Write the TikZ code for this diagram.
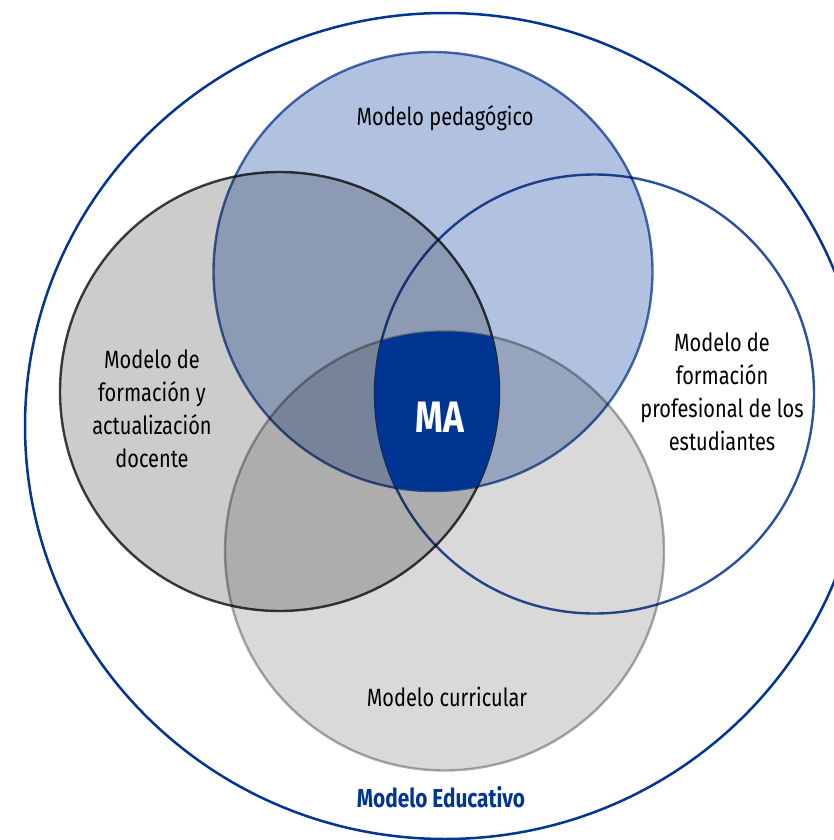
\documentclass[tikz,border=0pt]{standalone}
\usepackage{fontspec}
\setsansfont[FakeStretch=0.8]{Fira Sans}
\usepackage{tikz}
\usetikzlibrary{shapes.geometric}
\definecolor{mablue}{HTML}{003594}
\definecolor{pedfill}{HTML}{B0C2E0}
\definecolor{pedline}{HTML}{4A6EB3}
\definecolor{docfill}{HTML}{CCCCCC}
\definecolor{docline}{HTML}{3F3F3F}
\definecolor{profline}{HTML}{2A51A0}
\definecolor{curfill}{HTML}{D9D9D9}
\definecolor{curline}{HTML}{ADADAD}
\tikzset{
  modelo/.style={circle,draw,line width=2.4pt,inner sep=0pt,minimum size=439pt},
  etiqueta/.style={align=center,font=\sffamily\fontsize{25}{33}\selectfont}
}

\begin{document}
\begin{tikzpicture}[x=1pt,y=-1pt]
	\useasboundingbox (0,0) rectangle (834,840);
	\node[ellipse,draw=mablue,line width=2.5pt,inner sep=0pt,minimum width=840pt,minimum height=826pt] (edu) at (445,426) {};
	\begin{scope}[blend group=multiply]
		\node[modelo,fill=docfill,draw=docline] (doc) at (279.5,391.5) {};
		\node[modelo,fill=pedfill,draw=pedline] (ped) at (433,271.5) {};
		\node[modelo,draw=profline] (prof) at (594.5,394) {};
		\node[modelo,fill=curfill,draw=curline] (cur) at (444.5,551) {};
	\end{scope}
	\begin{scope}
		\clip (doc.center) circle (219.5);
		\clip (ped.center) circle (219.5);
		\clip (prof.center) circle (219.5);
		\fill[mablue] (cur.center) circle (219.5);
	\end{scope}
	\node[etiqueta] (tped) at (445,118) {Modelo pedagógico};
	\node[etiqueta] (tdoc) at (152,409) {Modelo de\\formación y\\actualización\\docente};
	\node[etiqueta] (tprof) at (722,392) {Modelo de\\formación\\profesional de los\\estudiantes};
	\node[etiqueta] (tcur) at (447,697) {Modelo curricular};
	\node[font=\sffamily\bfseries\fontsize{44}{44}\selectfont,text=white] (ma) at (440,417) {MA};
	\node[font=\sffamily\bfseries\fontsize{26}{26}\selectfont,text=mablue] (tedu) at (441,797) {Modelo Educativo};
\end{tikzpicture}
\end{document}
